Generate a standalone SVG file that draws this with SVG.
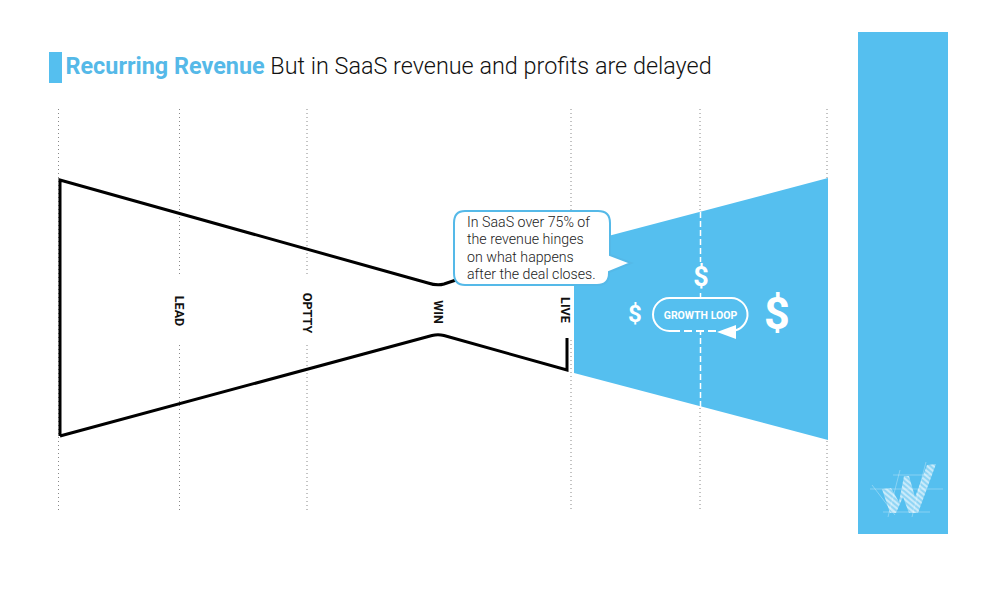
<svg xmlns="http://www.w3.org/2000/svg" width="1000" height="592" viewBox="0 0 1000 592">
<style>
.dot{stroke:#888;stroke-width:1;stroke-dasharray:1 3;fill:none}
.fun{stroke:#000;stroke-width:3;fill:none}
.lab{font:700 12.600px "Roboto","Liberation Sans",sans-serif;fill:#111;text-anchor:middle}
.usd{font-family:"Roboto","Liberation Sans",sans-serif;font-weight:700;fill:#fff;text-anchor:middle}
.call{font:300 14.200px "Roboto","Liberation Sans",sans-serif;fill:#222}
.wl{stroke:#fff;stroke-width:1;opacity:.3;fill:none}
</style>
<defs>
<pattern id="hatch" width="4" height="4" patternUnits="userSpaceOnUse" patternTransform="rotate(40)">
<rect width="4" height="4" fill="#fff" opacity=".35"/>
<rect width="4" height="2" fill="#fff" opacity=".5"/>
</pattern>
</defs>
<rect width="1000" height="592" fill="#fff"/>
<g id="title">
<rect x="49" y="52" width="13" height="31" fill="#55bfef"/>
<text x="65.500" y="73.500" font-family="Roboto,'Liberation Sans',sans-serif" font-size="23.400"><tspan font-weight="700" fill="#55b9e8">Recurring Revenue</tspan><tspan font-weight="300" fill="#111"> But in SaaS revenue and profits are delayed</tspan></text>
</g>
<rect id="panel" x="858" y="32" width="90" height="502" fill="#55bfef"/>
<g id="stage-lines">
<path class="dot" d="M58.500 109V510M179.500 109V274M179.500 345V510M307 109V274M307 345V510M571 109V210M571 340V510M700 109V212M700 408V510M827 109V510"/>
</g>
<g id="connectors">
<polygon points="574,245 828,178 828,440 574,373" fill="#55bfef"/>
<path d="M700.500 212V408" stroke="#fff" stroke-width="1.500" stroke-dasharray="6 3" fill="none"/>
<path class="fun" d="M60 436V180L428 283Q437 286 444 284L456 280M60 436L432 335.500Q438 334 444 335.500L567 370V338"/>
</g>
<g id="node-lead"><rect x="170" y="285" width="18" height="50" fill="#fff"/><text class="lab" transform="translate(175,311) rotate(90)">LEAD</text></g>
<g id="node-optty"><rect x="298" y="285" width="18" height="50" fill="#fff"/><text class="lab" transform="translate(302.500,313) rotate(90)">OPTTY</text></g>
<g id="node-win"><rect x="429" y="295" width="18" height="35" fill="#fff"/><text class="lab" transform="translate(433.500,312) rotate(90)">WIN</text></g>
<g id="node-live"><text class="lab" transform="translate(561,310) rotate(90)">LIVE</text></g>
<g id="callout">
<path d="M465 211H598Q610 211 610 223V255L631 263L609 272V273Q609 285 597 285H465Q454 285 454 273V223Q454 211 465 211Z" fill="#fff" stroke="#55b9e8" stroke-width="2"/>
<text class="call" x="467" y="226.500">In SaaS over 75% of</text>
<text class="call" x="467" y="244">the revenue hinges</text>
<text class="call" x="467" y="261.500">on what happens</text>
<text class="call" x="467" y="279">after the deal closes.</text>
</g>
<g id="growth-loop">
<path d="M672 331H669.500A16.500 16.500 0 0 1 669.500 298H731.500A16.500 16.500 0 0 1 735 330.500" fill="#55bfef" stroke="#fff" stroke-width="2"/>
<path d="M672 331H720" fill="none" stroke="#fff" stroke-width="2" stroke-dasharray="8 4"/>
<polygon points="717,332 736,325 736,339" fill="#fff"/>
<text x="700.500" y="319" font-family="Roboto,'Liberation Sans',sans-serif" font-size="10.500" font-weight="700" fill="#fff" text-anchor="middle">GROWTH LOOP</text>
</g>
<g id="dollars">
<rect x="690" y="262" width="21" height="28" fill="#55bfef"/>
<text class="usd" x="701" y="286" font-size="27">$</text>
<text class="usd" x="635" y="322" font-size="24">$</text>
<text class="usd" x="777" y="329" font-size="45">$</text>
</g>
<g id="logo">
<polygon points="882,489 891,488 899,502 904,476 909,476 915,497 927,465 936,464 918,513 909,513 903,497 896,513 890,513" fill="url(#hatch)"/>
<path class="wl" d="M870 489H943M893 475H930M883 512H930M900 470L888 517M872 485L895 515M926 462L912 517"/>
</g>
</svg>
